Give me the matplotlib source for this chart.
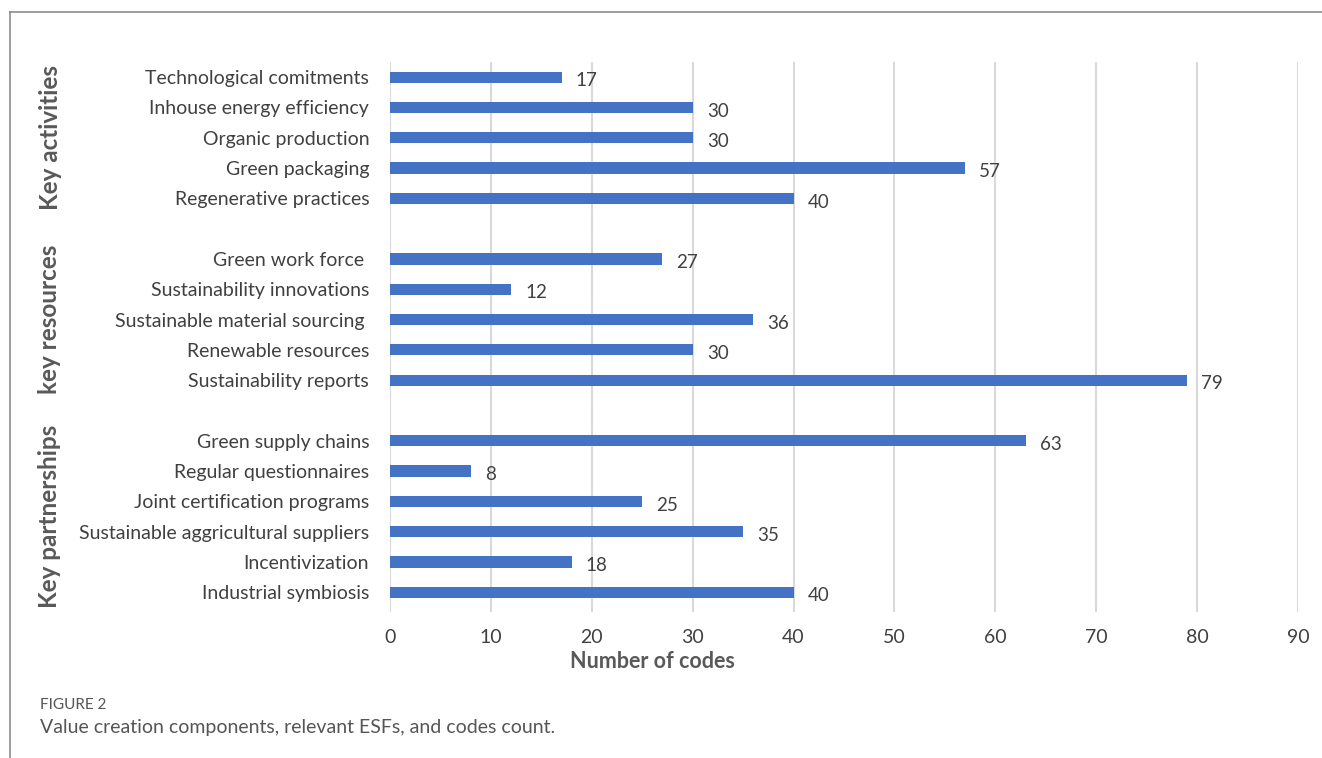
import matplotlib
matplotlib.use("Agg")
from matplotlib import pyplot as plt
from matplotlib.lines import Line2D

# chart data, top to bottom within each group
group_names = ["Key activities", "key resources", "Key partnerships"]
activities = ["Technological comitments", "Inhouse energy efficiency", "Organic production",
              "Green packaging", "Regenerative practices"]
activities_counts = [17, 30, 30, 57, 40]
resources = ["Green work force ", "Sustainability innovations", "Sustainable material sourcing ",
             "Renewable resources", "Sustainability reports"]
resources_counts = [27, 12, 36, 30, 79]
partnerships = ["Green supply chains", "Regular questionnaires", "Joint certification programs",
                "Sustainable aggricultural suppliers", "Incentivization", "Industrial symbiosis"]
partnerships_counts = [63, 8, 25, 35, 18, 40]
x_ticks = [0, 10, 20, 30, 40, 50, 60, 70, 80, 90]

plt.rcParams['font.family'] = ['Lato', 'DejaVu Sans']

groups = [(activities, activities_counts), (resources, resources_counts),
          (partnerships, partnerships_counts)]

labels, counts, pos, group_mid = [], [], [], []
slot = 0
for names, vals in groups:
    start = slot
    for n, v in zip(names, vals):
        labels.append(n)
        counts.append(v)
        pos.append(slot)
        slot += 1
    group_mid.append((start + slot - 1) / 2)
    slot += 1  # blank slot between groups

W, H = 1322, 758
fig = plt.figure(figsize=(W / 100, H / 100), dpi=100)
ax = fig.add_axes([390 / W, 1 - 612 / H, (1298 - 390) / W, (612 - 62) / H])

ax.barh(pos, counts, height=0.37, color='#4472C4', zorder=3)
for p, v in zip(pos, counts):
    ax.text(v + 1.4, p + 0.12, str(v), va='center', ha='left', fontsize=13.5, color='#404040')

ax.set_xlim(0, 90)
ax.set_ylim(17.65, -0.5)
ax.set_xticks(x_ticks)
ax.set_yticks(pos)
ax.set_yticklabels(labels)
ax.tick_params(axis='both', length=0, labelsize=14, labelcolor='#404040')
ax.tick_params(axis='y', pad=15)
ax.tick_params(axis='x', pad=12)
ax.grid(axis='x', color='#D9D9D9', linewidth=1.5, zorder=0)
for s in ax.spines.values():
    s.set_visible(False)

fig.text(652 / W, 1 - 661 / H, "Number of codes", ha='center', va='center',
         fontsize=15.5, fontweight='bold', color='#595959')

for name, mid in zip(group_names, group_mid):
    y_pix = 62 + (mid + 0.5) * (550 / 18.15)
    fig.text(50 / W, 1 - y_pix / H, name, rotation=90, ha='center', va='center',
             fontsize=17.5, fontweight='bold', color='#595959')

fig.text(40 / W, 1 - 705 / H, "FIGURE 2", ha='left', va='center', fontsize=11, color='#555555')
fig.text(40 / W, 1 - 727 / H, "Value creation components, relevant ESFs, and codes count.",
         ha='left', va='center', fontsize=14, color='#555555')

# frame lines at top and left
fig.add_artist(Line2D([10 / W, 1], [1 - 12 / H, 1 - 12 / H], color='#8c8c8c', linewidth=1.2))
fig.add_artist(Line2D([10 / W, 10 / W], [0, 1 - 12 / H], color='#8c8c8c', linewidth=1.2))

fig.savefig("out.png", dpi=100)
